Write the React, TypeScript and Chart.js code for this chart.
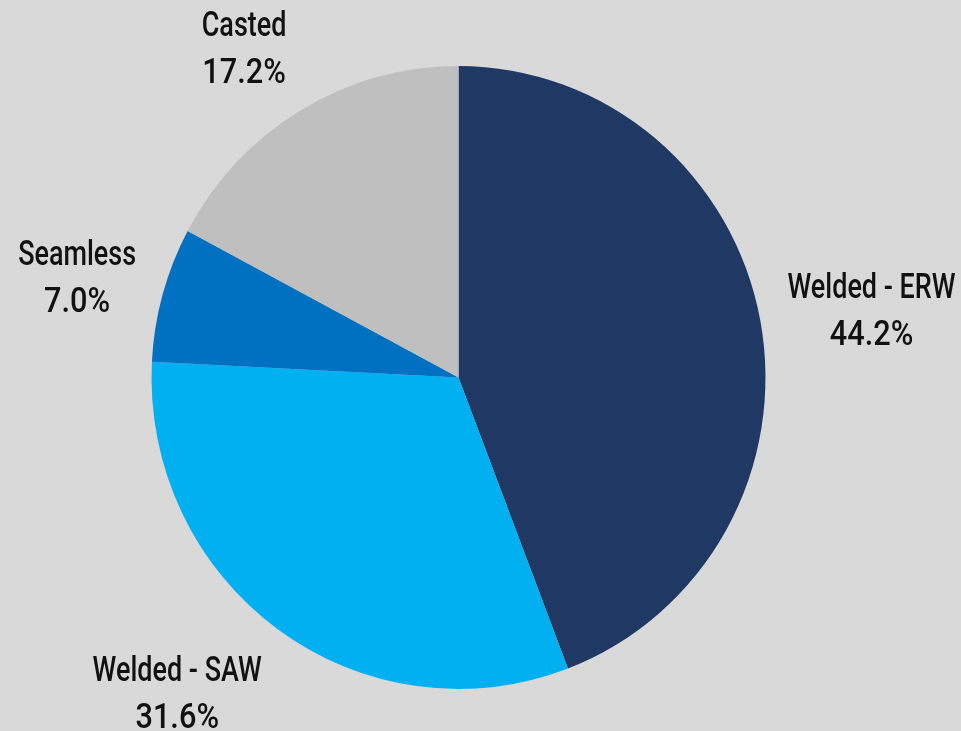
import React, { useEffect, useRef } from "react";
import { Chart, registerables } from "chart.js";

Chart.register(...registerables);

const categories = ["Welded - ERW", "Welded - SAW", "Seamless", "Casted"];
const shares = [44.2, 31.6, 7.0, 17.2];
const sliceColors = ["#203864", "#00B0F0", "#0070C0", "#BFBFBF"];
const BG = "#D9D9D9";
const FONT = "500 35px Roboto, 'DejaVu Sans', sans-serif";
const PIE_X_SCALE = 0.9855;
const REF_TEXT = "Welded - ERW";
const REF_TEXT_WIDTH = 168;
const PCT_WIDEN = 1.14;

const bgPlugin = {
  id: "bgFill",
  beforeDraw(chart: any) {
    const { ctx, width, height } = chart;
    ctx.save();
    ctx.fillStyle = BG;
    ctx.fillRect(0, 0, width, height);
    ctx.restore();
  },
};

const squashPlugin = {
  id: "squash",
  beforeDatasetsDraw(chart: any) {
    const { ctx, chartArea } = chart;
    const cx = (chartArea.left + chartArea.right) / 2;
    ctx.save();
    ctx.translate(cx, 0);
    ctx.scale(PIE_X_SCALE, 1);
    ctx.translate(-cx, 0);
  },
  afterDatasetsDraw(chart: any) {
    chart.ctx.restore();
  },
};

const labelPlugin = {
  id: "outsideLabels",
  afterDraw(chart: any) {
    const { ctx } = chart;
    const meta = chart.getDatasetMeta(0);
    const labels = chart.data.labels as string[];
    const data = chart.data.datasets[0].data as number[];
    ctx.save();
    ctx.font = FONT;
    ctx.fillStyle = "#111111";
    ctx.textAlign = "center";
    ctx.textBaseline = "middle";
    const sx = REF_TEXT_WIDTH / ctx.measureText(REF_TEXT).width;
    const lineGap = 47;
    meta.data.forEach((arc: any, i: number) => {
      const { x, y, startAngle, endAngle, outerRadius } = arc.getProps(
        ["x", "y", "startAngle", "endAngle", "outerRadius"],
        true
      );
      const mid = (startAngle + endAngle) / 2;
      const c = Math.cos(mid);
      const s = Math.sin(mid);
      const l1 = labels[i];
      const l2 = data[i].toFixed(1) + "%";
      const w = Math.max(
        ctx.measureText(l1).width * sx,
        ctx.measureText(l2).width * sx * PCT_WIDEN
      );
      const h = 90;
      const rr = outerRadius + 28;
      const ax = x + c * rr * PIE_X_SCALE;
      const ay = y + s * rr;
      const ox = Math.sign(c) * Math.min(1, Math.abs(c) * 2.2) * (w / 2);
      const oy = Math.sign(s) * Math.min(1, Math.abs(s) * 1.05) * (h / 2);
      const cx = ax + ox;
      const cy = ay + oy + 5;
      [l1, l2].forEach((t, k) => {
        ctx.save();
        ctx.translate(cx, cy + (k === 0 ? -lineGap / 2 : lineGap / 2));
        ctx.scale(k === 0 ? sx : sx * PCT_WIDEN, 1);
        ctx.fillText(t, 0, 0);
        ctx.restore();
      });
    });
    ctx.restore();
  },
};

export default function App() {
  const ref = useRef<HTMLCanvasElement | null>(null);
  useEffect(() => {
    document.body.style.margin = "0";
    document.body.style.background = BG;
    const chart = new Chart(ref.current as HTMLCanvasElement, {
      type: "pie",
      data: {
        labels: categories,
        datasets: [
          {
            data: shares,
            backgroundColor: sliceColors,
            borderWidth: 0,
          },
        ],
      },
      options: {
        responsive: false,
        animation: false,
        layout: { padding: { left: 147, right: 191, top: 66, bottom: 42 } },
        plugins: {
          legend: { display: false },
          tooltip: { enabled: false },
        },
      },
      plugins: [bgPlugin, squashPlugin, labelPlugin],
    });
    return () => chart.destroy();
  }, []);
  return (
    <div style={{ width: 961, height: 731, background: BG }}>
      <canvas ref={ref} width={961} height={731} style={{ display: "block" }} />
    </div>
  );
}
